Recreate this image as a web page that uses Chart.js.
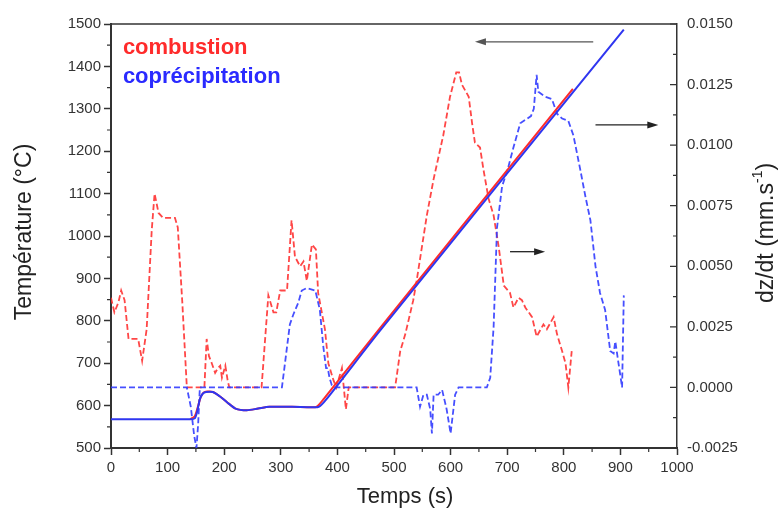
<!DOCTYPE html>
<html>
<head>
<meta charset="utf-8">
<script src="https://cdn.jsdelivr.net/npm/chart.js@4.4.0/dist/chart.umd.min.js"></script>
<style>
  html, body { margin: 0; padding: 0; background: #fff; }
  #wrap { width: 780px; height: 508px; position: relative; }
</style>
</head>
<body>
<div id="wrap"><canvas id="grafica"></canvas></div>
<script>
// Température (°C) - courbes pleines
const tpsTempComb = [140, 148, 153, 158, 163, 170, 180, 192, 205, 220, 240, 260, 280, 320, 352, 363, 376, 476, 816];
const tempComb    = [568, 575, 595, 618, 630, 633, 632, 622, 608, 593, 589, 593, 597, 597, 596, 597, 616, 784, 1347];

const tpsTempCopr = [0, 140, 148, 152, 157, 162, 168, 180, 192, 205, 220, 240, 260, 280, 320, 355, 367, 380, 476, 906];
const tempCopr    = [568, 568, 570, 585, 615, 628, 632, 632, 622, 608, 593, 589, 593, 597, 597, 596, 597, 614, 778, 1487];

// dz/dt (mm.s-1) - courbes en pointillés
const tpsVitComb = [0, 6, 13, 18, 24, 31, 48, 55, 63, 72, 77, 84, 92, 113, 118, 126, 134,
  165, 169, 173, 178, 184, 189, 193, 196, 202, 206, 209,
  266, 278, 287, 292, 299, 311, 319, 325, 334, 340, 346, 355, 362, 366, 378, 384, 393, 398, 408, 415, 420,
  502, 511, 520, 526, 534, 540, 546, 558, 570, 587, 599, 610, 615, 620, 632, 638, 643, 652, 658, 667, 676,
  685, 694, 705, 711, 720, 726, 732, 744, 752, 764, 770, 782, 788, 797, 803, 808, 814];
const vitComb = [0.0037, 0.0031, 0.0035, 0.0040, 0.0036, 0.0020, 0.0020, 0.0011, 0.0024, 0.0065, 0.0080, 0.0072, 0.0070, 0.0070, 0.0066, 0.0035, 0.0000,
  0.0000, 0.0020, 0.0013, 0.0010, 0.0006, 0.0008, 0.0009, 0.0004, 0.0009, 0.0003, 0.0000,
  0.0000, 0.0038, 0.0031, 0.0031, 0.0040, 0.0040, 0.0069, 0.0054, 0.0050, 0.0052, 0.0044, 0.0059, 0.0057, 0.0039, 0.0024, 0.0010, 0.0003, 0.0000, 0.0008, -0.0009, 0.0000,
  0.0000, 0.0015, 0.0022, 0.0028, 0.0036, 0.0044, 0.0053, 0.0071, 0.0086, 0.0104, 0.0120, 0.0130, 0.0130, 0.0125, 0.0120, 0.0109, 0.0101, 0.0099, 0.0090, 0.0078, 0.0071,
  0.0058, 0.0042, 0.0039, 0.0033, 0.0037, 0.0036, 0.0033, 0.0029, 0.0021, 0.0026, 0.0024, 0.0029, 0.0022, 0.0015, 0.0010, 0.0000, 0.0015];

const tpsVitCopr = [0, 134, 141, 147, 151, 154, 157,
  302, 316, 322, 331, 337, 346, 361, 369, 375, 380, 383, 386, 390, 395,
  540, 546, 552, 558, 564, 567, 570, 578, 585, 593, 600, 608, 614,
  664, 670, 676, 682, 691, 702, 711, 723, 742, 747, 752, 755, 767, 779, 788, 797, 808, 817, 829, 838, 847, 856, 864, 873, 882, 888, 891, 896, 903, 906];
const vitCopr = [0, 0, -0.0008, -0.0020, -0.0025, -0.0015, 0,
  0, 0.0026, 0.0030, 0.0035, 0.0040, 0.0041, 0.0040, 0.0032, 0.0017, 0.0008, 0.0008, 0.0004, 0.0001, 0,
  0, -0.0008, -0.0003, -0.0003, -0.0009, -0.0019, -0.0003, -0.0003, -0.0001, -0.0009, -0.0019, -0.0003, 0,
  0, 0.0004, 0.0025, 0.0066, 0.0083, 0.0091, 0.0099, 0.0109, 0.0112, 0.0115, 0.0129, 0.0122, 0.0120, 0.0119, 0.0113, 0.0111, 0.0110, 0.0104, 0.0090, 0.0079, 0.0069, 0.0050, 0.0039, 0.0032, 0.0015, 0.0014, 0.0019, 0.0011, 0.0000, 0.0038];

// flèches d'annotation (en unités des axes : temps, température)
const flechas = [
  { de: 852, a: 643, t: 1458, color: "#555" },
  { de: 856, a: 967, t: 1262, color: "#222" },
  { de: 705, a: 767, t: 963, color: "#222" }
];

const ROJO = "#ff2b2b";
const AZUL = "#2f36f0";
const FUENTE = "'Liberation Sans', Arial, sans-serif";

function puntos(xs, ys) {
  return xs.map((x, i) => ({ x: x, y: ys[i] }));
}

const decor = {
  id: "decor",
  afterDraw(chart) {
    const ctx = chart.ctx;
    const a = chart.chartArea;
    const sx = chart.scales.x, sy = chart.scales.y, s2 = chart.scales.y2;
    ctx.save();

    // cadre supérieur
    ctx.strokeStyle = "#333";
    ctx.lineWidth = 1.5;
    ctx.beginPath();
    ctx.moveTo(a.left, a.top);
    ctx.lineTo(a.right, a.top);
    ctx.stroke();

    // petites graduations
    ctx.lineWidth = 1.2;
    ctx.beginPath();
    for (let v = 50; v < 1000; v += 100) {
      const p = sx.getPixelForValue(v);
      ctx.moveTo(p, a.bottom); ctx.lineTo(p, a.bottom + 4);
    }
    for (let v = 550; v < 1500; v += 100) {
      const p = sy.getPixelForValue(v);
      ctx.moveTo(a.left - 4, p); ctx.lineTo(a.left, p);
    }
    // axe de droite : graduations vers l'intérieur
    s2.ticks.forEach((t) => {
      const p = s2.getPixelForValue(t.value);
      ctx.moveTo(a.right - 7, p); ctx.lineTo(a.right, p);
      const m = t.value + 0.00125;
      if (m < 0.015) {
        const q = s2.getPixelForValue(m);
        ctx.moveTo(a.right - 4, q); ctx.lineTo(a.right, q);
      }
    });
    ctx.stroke();

    // flèches
    flechas.forEach((f) => {
      const x0 = sx.getPixelForValue(f.de);
      const x1 = sx.getPixelForValue(f.a);
      const y = sy.getPixelForValue(f.t);
      const dir = x1 > x0 ? 1 : -1;
      ctx.strokeStyle = f.color;
      ctx.fillStyle = f.color;
      ctx.lineWidth = 1.3;
      ctx.beginPath();
      ctx.moveTo(x0, y); ctx.lineTo(x1 - dir * 8, y);
      ctx.stroke();
      ctx.beginPath();
      ctx.moveTo(x1, y);
      ctx.lineTo(x1 - dir * 11, y - 3.5);
      ctx.lineTo(x1 - dir * 11, y + 3.5);
      ctx.closePath();
      ctx.fill();
    });

    // légende
    ctx.font = "bold 22px " + FUENTE;
    ctx.textBaseline = "middle";
    ctx.textAlign = "left";
    ctx.fillStyle = ROJO;
    ctx.fillText("combustion", sx.getPixelForValue(21), sy.getPixelForValue(1444));
    ctx.fillStyle = "#2a2aff";
    ctx.fillText("coprécipitation", sx.getPixelForValue(21), sy.getPixelForValue(1376));

    // titres des axes
    ctx.fillStyle = "#222";
    ctx.font = "22px " + FUENTE;
    ctx.textAlign = "center";
    ctx.fillText("Temps (s)", (a.left + a.right) / 2 + 11, 497);

    ctx.save();
    ctx.translate(25, 232);
    ctx.rotate(-Math.PI / 2);
    ctx.font = "23px " + FUENTE;
    ctx.fillText("Température (°C)", 0, 0);
    ctx.restore();

    ctx.save();
    ctx.translate(767, 233);
    ctx.rotate(-Math.PI / 2);
    ctx.font = "23px " + FUENTE;
    const t1 = "dz/dt (mm.s", t2 = "-1", t3 = ")";
    const w1 = ctx.measureText(t1).width;
    const w3 = ctx.measureText(t3).width;
    ctx.font = "14px " + FUENTE;
    const w2 = ctx.measureText(t2).width;
    const total = w1 + w2 + w3;
    let x = -total / 2;
    ctx.textAlign = "left";
    ctx.font = "23px " + FUENTE;
    ctx.fillText(t1, x, 0);
    x += w1;
    ctx.font = "14px " + FUENTE;
    ctx.fillText(t2, x, -9);
    x += w2;
    ctx.font = "23px " + FUENTE;
    ctx.fillText(t3, x, 0);
    ctx.restore();

    ctx.restore();
  }
};

const tickFont = { family: FUENTE, size: 15 };

new Chart(document.getElementById("grafica").getContext("2d"), {
  type: "line",
  data: {
    datasets: [
      {
        label: "combustion T",
        data: puntos(tpsTempComb, tempComb),
        yAxisID: "y",
        borderColor: ROJO,
        borderWidth: 2,
        pointRadius: 0,
        tension: 0.25,
        order: 1
      },
      {
        label: "coprécipitation T",
        data: puntos(tpsTempCopr, tempCopr),
        yAxisID: "y",
        borderColor: AZUL,
        borderWidth: 2,
        pointRadius: 0,
        tension: 0.25,
        order: 0
      },
      {
        label: "combustion dz/dt",
        data: puntos(tpsVitComb, vitComb),
        yAxisID: "y2",
        borderColor: "rgba(255,50,50,0.9)",
        borderWidth: 1.8,
        borderDash: [6, 3],
        pointRadius: 0,
        tension: 0,
        order: 3
      },
      {
        label: "coprécipitation dz/dt",
        data: puntos(tpsVitCopr, vitCopr),
        yAxisID: "y2",
        borderColor: "rgba(50,60,255,0.9)",
        borderWidth: 1.8,
        borderDash: [6, 3],
        pointRadius: 0,
        tension: 0,
        order: 2
      }
    ]
  },
  options: {
    responsive: true,
    maintainAspectRatio: false,
    animation: false,
    layout: { padding: { top: 24, left: 0, right: 0, bottom: 0 } },
    plugins: {
      legend: { display: false },
      tooltip: { enabled: false }
    },
    scales: {
      x: {
        type: "linear",
        min: 0,
        max: 1000,
        afterFit: (s) => { s.height = 60; },
        ticks: { stepSize: 100, color: "#333", font: tickFont, padding: 4, maxRotation: 0, callback: (v) => String(v) },
        grid: { drawOnChartArea: false, drawTicks: true, tickLength: 7, color: "#333", tickWidth: 1.5 },
        border: { color: "#333", width: 2 }
      },
      y: {
        position: "left",
        min: 500,
        max: 1500,
        afterFit: (s) => { s.width = 111; },
        ticks: { stepSize: 100, color: "#333", font: tickFont, padding: 3, callback: (v) => String(v) },
        grid: { drawOnChartArea: false, drawTicks: true, tickLength: 7, color: "#333", tickWidth: 1.5 },
        border: { color: "#333", width: 2 }
      },
      y2: {
        position: "right",
        min: -0.0025,
        max: 0.015,
        afterFit: (s) => { s.width = 103; },
        ticks: {
          stepSize: 0.0025,
          color: "#333",
          font: tickFont,
          padding: 10,
          callback: (v) => (Math.abs(v) < 1e-9 ? "0.0000" : Number(v).toFixed(4))
        },
        grid: { drawOnChartArea: false, drawTicks: false },
        border: { color: "#333", width: 1.5 }
      }
    }
  },
  plugins: [decor]
});
</script>
</body>
</html>
